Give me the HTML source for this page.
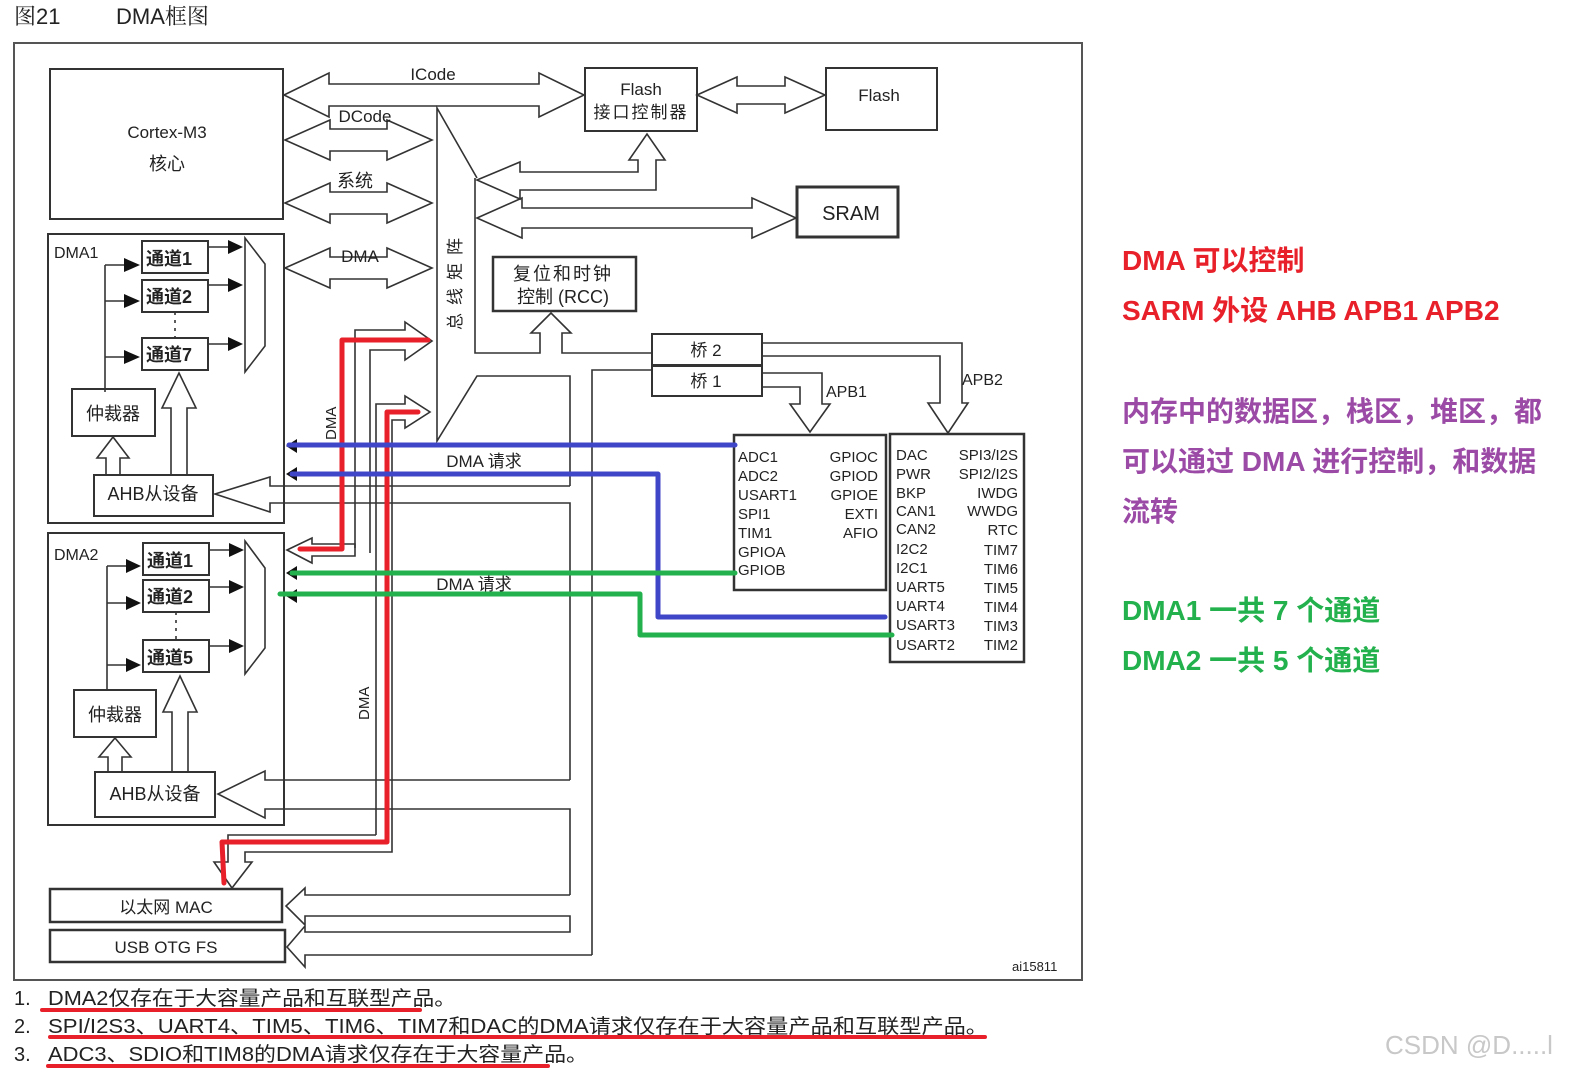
<!DOCTYPE html>
<html><head><meta charset="utf-8"><style>
html,body{margin:0;padding:0;background:#fff;}
svg{display:block;}
text{font-family:"Liberation Sans","Noto Sans CJK SC",sans-serif;fill:#222;}
.cj{font-family:"Liberation Sans","Noto Serif CJK SC",serif;}
</style></head><body>
<svg width="1585" height="1084" viewBox="0 0 1585 1084" xmlns="http://www.w3.org/2000/svg">
<g fill="none" stroke="#333" stroke-width="1.6">
<rect x="14" y="43" width="1068" height="937" stroke="#555" stroke-width="2"/>
<rect x="50" y="69" width="233" height="150" stroke-width="2"/>
<rect x="585" y="68" width="112" height="63" stroke-width="2"/>
<rect x="826" y="68" width="111" height="62" stroke-width="2"/>
<rect x="797" y="187" width="101" height="50" stroke-width="3"/>
<polygon points="284,95 329,73 329,84 539,84 539,73 584,95 539,117 539,106 329,106 329,117"/>
<polygon points="285,140 330,120 330,129 387,129 387,120 432,140 387,160 387,151 330,151 330,160"/>
<polygon points="285,203 330,183 330,192 387,192 387,183 432,203 387,223 387,214 330,214 330,223"/>
<polygon points="285,268 330,248 330,257 387,257 387,248 432,268 387,288 387,279 330,279 330,288"/>
<polygon points="697,95 737,77 737,86 785,86 785,77 825,95 785,113 785,104 737,104 737,113"/>
<polygon points="477,218 522,198 522,208 752,208 752,198 796,218 752,238 752,228 522,228 522,238"/>
<polygon points="477,180 520,162 520,172 638,172 638,160 629,160 647,134 665,160 656,160 656,190 520,190 520,199"/>
<polyline points="477,178 437,108 437,441 477,376 570,376 570,486"/>
<polyline points="475,178 475,353 540,353 540,333 531,333 551,313 571,333 562,333 562,353 652,353"/>
<polyline points="652,370 592,370 592,955"/>
<rect x="493" y="257" width="143" height="54" stroke-width="2.5"/>
<rect x="652" y="334" width="110" height="31" stroke-width="2"/>
<rect x="652" y="366" width="110" height="30" stroke-width="2"/>
<polyline points="762,373 822,373 822,404 830,404 810,432 790,404 800,404 800,387 762,387"/>
<polyline points="762,343 962,343 962,403 968,403 948,433 928,403 940,403 940,356 762,356"/>
<rect x="734" y="435" width="152" height="155" stroke-width="2.5"/>
<rect x="890" y="434" width="134" height="228" stroke-width="2.5"/>
<rect x="48" y="234" width="236" height="289" stroke-width="2"/>
<rect x="142" y="241" width="66" height="32" stroke-width="2"/>
<rect x="142" y="280" width="66" height="32" stroke-width="2"/>
<rect x="142" y="338" width="66" height="32" stroke-width="2"/>
<polygon points="245,238 265,264 265,346 245,372"/>
<line x1="175" y1="312" x2="175" y2="338" stroke-dasharray="3,5"/>
<polyline points="105,392 105,265"/>
<line x1="105" y1="265" x2="128" y2="265"/><line x1="105" y1="301" x2="128" y2="301"/><line x1="105" y1="357" x2="128" y2="357"/>
<line x1="208" y1="247" x2="230" y2="247"/><line x1="208" y1="285" x2="230" y2="285"/><line x1="208" y1="344" x2="230" y2="344"/>
<rect x="72" y="389" width="83" height="47" stroke-width="2"/>
<rect x="94" y="475" width="119" height="41" stroke-width="2"/>
<polyline points="106,475 106,458 97,458 113,437 129,458 120,458 120,475"/>
<polyline points="171,475 171,408 162,408 179,373 196,408 187,408 187,475"/>
<polyline points="570,486 270,486 270,477 215,494 270,512 270,503 570,503 570,780"/>
<rect x="48" y="533" width="236" height="292" stroke-width="2"/>
<rect x="143" y="543" width="66" height="32" stroke-width="2"/>
<rect x="143" y="580" width="66" height="32" stroke-width="2"/>
<rect x="143" y="640" width="66" height="32" stroke-width="2"/>
<polygon points="245,541 265,568 265,648 245,674"/>
<line x1="176" y1="612" x2="176" y2="640" stroke-dasharray="3,5"/>
<polyline points="107,690 107,566"/>
<line x1="107" y1="566" x2="130" y2="566"/><line x1="107" y1="603" x2="130" y2="603"/><line x1="107" y1="665" x2="130" y2="665"/>
<line x1="209" y1="550" x2="232" y2="550"/><line x1="209" y1="587" x2="232" y2="587"/><line x1="209" y1="646" x2="232" y2="646"/>
<rect x="74" y="690" width="82" height="47" stroke-width="2"/>
<rect x="95" y="772" width="120" height="45" stroke-width="2"/>
<polyline points="108,772 108,757 99,757 115,738 131,757 122,757 122,772"/>
<polyline points="172,772 172,712 163,712 180,676 197,712 188,712 188,772"/>
<polyline points="570,780 265,780 265,771 218,794 265,818 265,809 570,809 570,895"/>
<rect x="50" y="889" width="232" height="33" stroke-width="2.5"/>
<rect x="50" y="930" width="235" height="32" stroke-width="2.5"/>
<polyline points="570,895 305,895 305,888 286,906 305,925 305,916 570,916 570,932 305,932 305,926 287,947 305,967 305,955 592,955"/>
<polyline points="355,548 355,330 405,330 405,322 432,341 405,360 405,350 370,350 370,553"/>
<polygon points="287,550 312,538 312,544 355,544 355,556 312,556 312,563"/>
<polyline points="376,835 376,404 405,404 405,396 430,412 405,428 405,420 392,420 392,852 245,852 245,862 252,862 232,888 214,862 228,862 228,835 376,835"/>
</g>
<g fill="#111">
<polygon points="140,265 124,258 124,272"/><polygon points="140,301 124,294 124,308"/><polygon points="140,357 124,350 124,364"/>
<polygon points="243,247 228,240 228,254"/><polygon points="243,285 228,278 228,292"/><polygon points="243,344 228,337 228,351"/>
<polygon points="141,566 126,559 126,573"/><polygon points="141,603 126,596 126,610"/><polygon points="141,665 126,658 126,672"/>
<polygon points="244,550 229,543 229,557"/><polygon points="244,587 229,580 229,594"/><polygon points="244,646 229,639 229,653"/>
<polygon points="286,446 297,439 297,453"/><polygon points="286,474 297,467 297,481"/>
<polygon points="286,573 297,566 297,580"/><polygon points="286,596 297,589 297,603"/>
</g>
<text x="14" y="24" font-size="22" class="cj">图21</text>
<text x="116" y="24" font-size="22" class="cj">DMA框图</text>
<text x="167" y="138" font-size="17" text-anchor="middle">Cortex-M3</text>
<text x="167" y="170" font-size="18" text-anchor="middle">核心</text>
<text x="433" y="80" font-size="17" text-anchor="middle">ICode</text>
<text x="365" y="122" font-size="17" text-anchor="middle">DCode</text>
<text x="355" y="187" font-size="18" text-anchor="middle">系统</text>
<text x="360" y="262" font-size="17" text-anchor="middle">DMA</text>
<text x="641" y="95" font-size="17" text-anchor="middle">Flash</text>
<text x="641" y="118" font-size="17" text-anchor="middle" letter-spacing="2">接口控制器</text>
<text x="879" y="101" font-size="17" text-anchor="middle">Flash</text>
<text x="851" y="220" font-size="20" text-anchor="middle">SRAM</text>
<text x="563" y="280" font-size="18" text-anchor="middle" letter-spacing="2">复位和时钟</text>
<text x="563" y="303" font-size="18" text-anchor="middle">控制 (RCC)</text>
<text transform="translate(461,330) rotate(-90)" font-size="17" letter-spacing="8">总线矩阵</text>
<text x="706" y="356" font-size="17" text-anchor="middle">桥  2</text>
<text x="706" y="387" font-size="17" text-anchor="middle">桥  1</text>
<text x="826" y="397" font-size="16">APB1</text>
<text x="962" y="385" font-size="16">APB2</text>
<text x="54" y="258" font-size="16">DMA1</text>
<text x="54" y="560" font-size="16">DMA2</text>
<g font-size="18" font-weight="bold"><text x="146" y="265">通道1</text><text x="146" y="303">通道2</text><text x="146" y="361">通道7</text>
<text x="147" y="567">通道1</text><text x="147" y="603">通道2</text><text x="147" y="664">通道5</text></g>
<text x="113" y="420" font-size="18" text-anchor="middle">仲裁器</text>
<text x="115" y="721" font-size="18" text-anchor="middle">仲裁器</text>
<text x="153" y="500" font-size="18" text-anchor="middle">AHB从设备</text>
<text x="155" y="800" font-size="18" text-anchor="middle">AHB从设备</text>
<text x="166" y="913" font-size="17" text-anchor="middle">以太网 MAC</text>
<text x="166" y="953" font-size="17" text-anchor="middle">USB OTG FS</text>
<text x="484" y="467" font-size="17" text-anchor="middle">DMA  请求</text>
<text x="474" y="590" font-size="17" text-anchor="middle">DMA  请求</text>
<text transform="translate(336,440) rotate(-90)" font-size="15">DMA</text>
<text transform="translate(369,720) rotate(-90)" font-size="15">DMA</text>
<g font-size="15">
<text x="738" y="462">ADC1</text><text x="738" y="481">ADC2</text><text x="738" y="500">USART1</text><text x="738" y="519">SPI1</text><text x="738" y="538">TIM1</text><text x="738" y="557">GPIOA</text><text x="738" y="575">GPIOB</text>
<g text-anchor="end"><text x="878" y="462">GPIOC</text><text x="878" y="481">GPIOD</text><text x="878" y="500">GPIOE</text><text x="878" y="519">EXTI</text><text x="878" y="538">AFIO</text></g>
<text x="896" y="460">DAC</text><text x="896" y="479">PWR</text><text x="896" y="498">BKP</text><text x="896" y="516">CAN1</text><text x="896" y="534">CAN2</text><text x="896" y="554">I2C2</text><text x="896" y="573">I2C1</text><text x="896" y="592">UART5</text><text x="896" y="611">UART4</text><text x="896" y="630">USART3</text><text x="896" y="650">USART2</text>
<g text-anchor="end"><text x="1018" y="460">SPI3/I2S</text><text x="1018" y="479">SPI2/I2S</text><text x="1018" y="498">IWDG</text><text x="1018" y="516">WWDG</text><text x="1018" y="535">RTC</text><text x="1018" y="555">TIM7</text><text x="1018" y="574">TIM6</text><text x="1018" y="593">TIM5</text><text x="1018" y="612">TIM4</text><text x="1018" y="631">TIM3</text><text x="1018" y="650">TIM2</text></g>
</g>
<text x="1012" y="971" font-size="13">ai15811</text>
<g fill="none" stroke-width="5" stroke-linecap="round" stroke-linejoin="round">
<polyline stroke="#e8202a" points="428,340 342,340 342,549 300,549"/>
<polyline stroke="#e8202a" points="418,412 387,412 387,842 222,842 224,883"/>
<polyline stroke="#4046c8" points="289,445 735,445"/>
<polyline stroke="#4046c8" points="292,474 658,474 658,617 885,617"/>
<polyline stroke="#22b14c" points="292,573 735,573"/>
<polyline stroke="#22b14c" points="280,594 640,594 640,635 892,635"/>
</g>
<g font-size="20" class="cj">
<text x="14" y="1005">1.</text><text x="48" y="1005" textLength="408" lengthAdjust="spacingAndGlyphs">DMA2仅存在于大容量产品和互联型产品。</text>
<text x="14" y="1033">2.</text><text x="48" y="1033" textLength="940" lengthAdjust="spacingAndGlyphs">SPI/I2S3、UART4、TIM5、TIM6、TIM7和DAC的DMA请求仅存在于大容量产品和互联型产品。</text>
<text x="14" y="1061">3.</text><text x="48" y="1061" textLength="540" lengthAdjust="spacingAndGlyphs">ADC3、SDIO和TIM8的DMA请求仅存在于大容量产品。</text>
</g>
<g stroke="#e8202a" stroke-width="4" stroke-linecap="round">
<line x1="42" y1="1010" x2="420" y2="1010"/><line x1="50" y1="1037" x2="985" y2="1037"/><line x1="48" y1="1066" x2="548" y2="1066"/>
</g>
<text x="1385" y="1054" font-size="26" style="fill:#c8c8c8">CSDN @D.....l</text>
<g font-weight="bold" font-size="28">
<text x="1122" y="270" style="fill:#e8202a">DMA 可以控制</text>
<text x="1122" y="320" style="fill:#e8202a">SARM 外设 AHB APB1 APB2</text>
<text x="1122" y="421" style="fill:#9b4aa6">内存中的数据区，栈区，堆区，都</text>
<text x="1122" y="471" style="fill:#9b4aa6">可以通过 DMA 进行控制，和数据</text>
<text x="1122" y="521" style="fill:#9b4aa6">流转</text>
<text x="1122" y="620" style="fill:#22b14c">DMA1 一共 7 个通道</text>
<text x="1122" y="670" style="fill:#22b14c">DMA2 一共 5 个通道</text>
</g>
</svg>
</body></html>
